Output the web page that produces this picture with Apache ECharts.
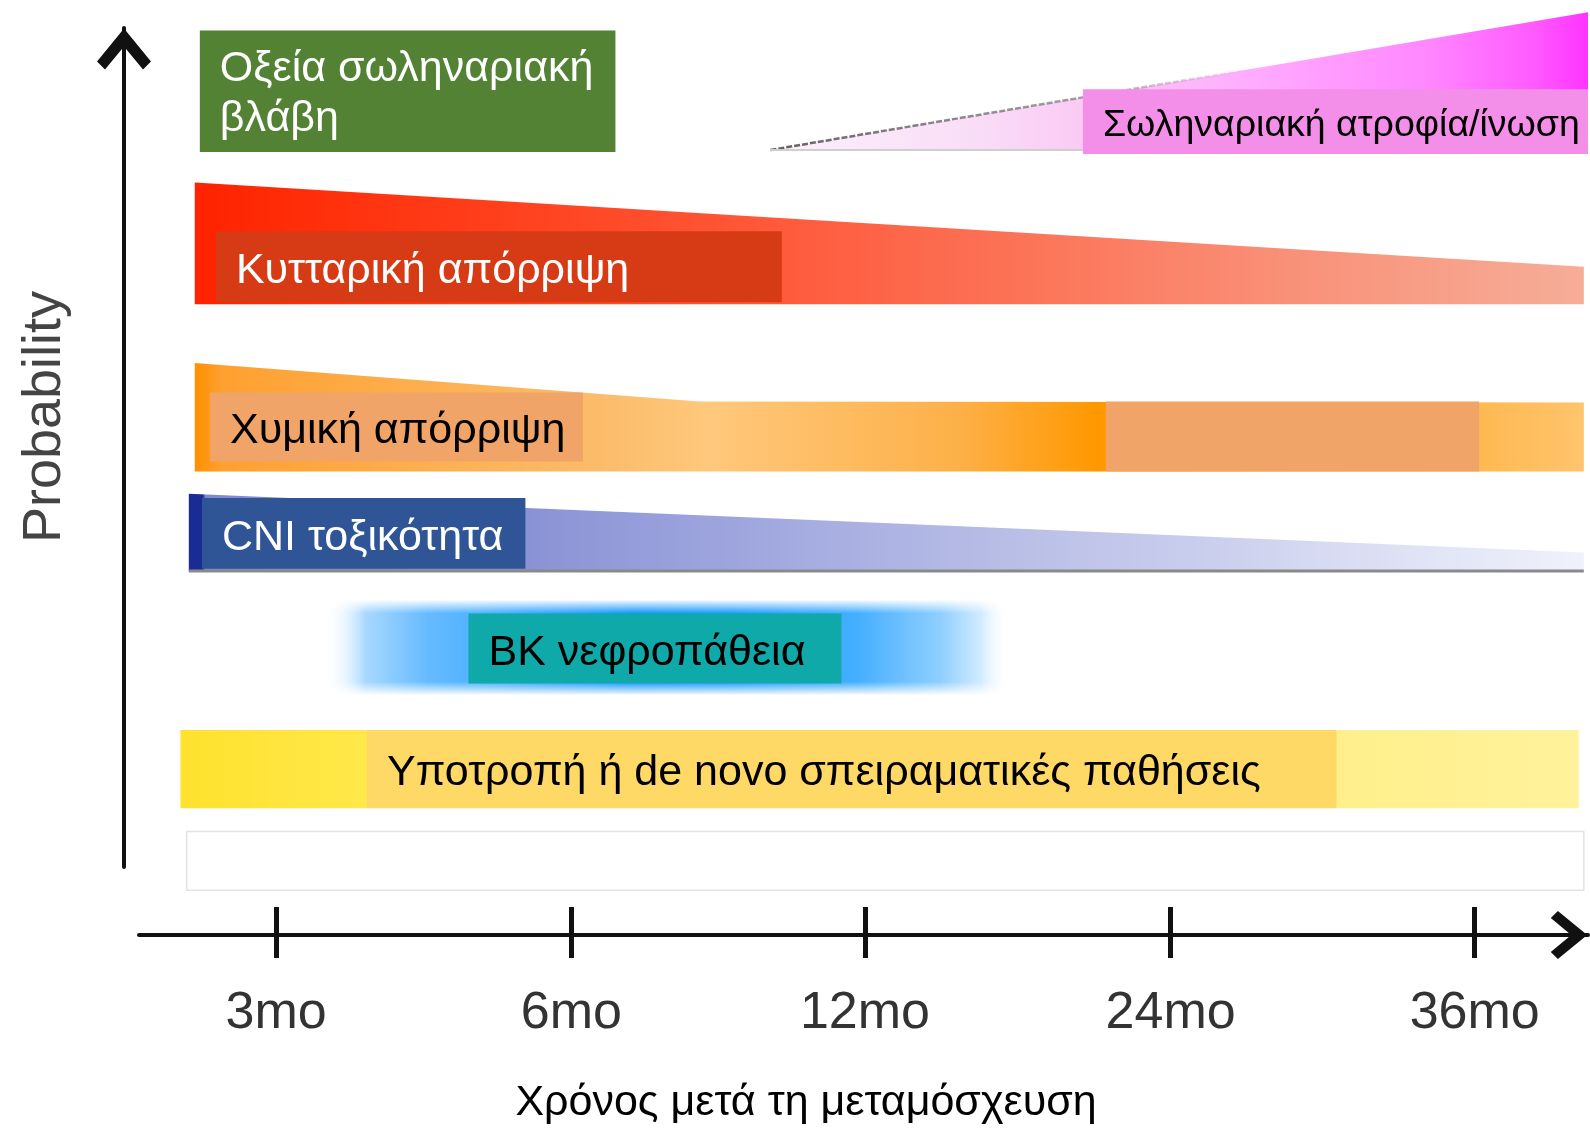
<!DOCTYPE html>
<html>
<head>
<meta charset="utf-8">
<script src="https://cdn.jsdelivr.net/npm/echarts@6/dist/echarts.min.js"></script>
<style>html,body{margin:0;padding:0;background:#fff}#chart{width:1590px;height:1129px}</style>
</head>
<body>
<div id="chart"></div>
<script>
// ---------- DATA ----------
// x positions are in "tick units" (3mo ≈ 0.5, 6mo ≈ 1.5, ...); y is a relative probability level 0..100
const tickLabels = ['3mo', '6mo', '12mo', '24mo', '36mo'];
const tickPositions = [0.50, 1.49, 2.475, 3.50, 4.52];

const bandNames = [
  'Σωληναριακή ατροφία/ίνωση',
  'Κυτταρική απόρριψη',
  'Χυμική απόρριψη',
  'CNI τοξικότητα',
  'BK νεφροπάθεια',
  'Υποτροπή ή de novo σπειραματικές παθήσεις',
  '—'
];
// upper outline of each band: [x, level]
const bandTopLines = [
  [[2.158, 83.96], [4.900, 98.70]],
  [[0.227, 80.48], [4.886, 71.48]],
  [[0.227, 61.18], [1.920, 57.06], [4.886, 56.94]],
  [[0.207, 47.19], [4.886, 40.90]],
  [[0.662, 35.79], [2.958, 35.79]],
  [[0.179, 21.93], [4.869, 21.93]],
  [[0.200, 11.07], [4.886, 11.07]]
];
const bandBaseLevels = [83.96, 67.47, 49.57, 38.94, 25.71, 13.56, 4.78];

const labelTexts = [
  'Οξεία σωληναριακή\nβλάβη',
  'Σωληναριακή ατροφία/ίνωση',
  'Κυτταρική απόρριψη',
  'Χυμική απόρριψη',
  '',
  'CNI τοξικότητα',
  'BK νεφροπάθεια',
  'Υποτροπή ή de novo σπειραματικές παθήσεις'
];
const labelStarts  = [0.244, 3.206, 0.298, 0.278, 3.283, 0.251, 1.145, 0.805];
const labelEnds    = [1.638, 4.900, 2.196, 1.529, 4.535, 1.336, 2.396, 4.056];
const labelTops    = [96.75, 90.46, 75.27, 58.03, 57.06, 46.75, 34.39, 21.70];
const labelBottoms = [83.73, 83.52, 67.68, 50.65, 49.57, 39.16, 26.91, 13.80];

// ---------- STYLES ----------
const FONT = '"Liberation Sans", Arial, sans-serif';
const labelFill = ['#548235', '#f38fe8', '#d73b15', '#f0a468', '#f0a468', '#2f5597', '#10a9aa', '#ffd966'];
const labelInk  = ['#ffffff', '#000000', '#ffffff', '#000000', '#000000', '#ffffff', '#000000', '#000000'];
const labelFontSize = [43, 37.5, 43, 43, 43, 43, 43, 43];
const labelShift = [2.5, 4.5, 4.5, 4.5, 4.5, 4.5, 4.5, 4.5];

const bandStops = [
  [[0, '#fbf1fb'], [0.25, '#f9ddf7'], [0.4, '#fbc7f5'], [0.6, '#ffaaff'], [0.8, '#ff88ff'], [0.93, '#ff5cff'], [1, '#ff33ff']],
  [[0, '#ff2200'], [0.05, '#ff2a05'], [0.3, '#ff4a28'], [0.45, '#fe5e40'], [0.6, '#fc7458'], [0.8, '#f9927a'], [1, '#f6ad98']],
  [[0, '#ff9000'], [0.02, '#ffa030'], [0.3, '#fbbd6c'], [0.37, '#ffc87c'], [0.55, '#fdb048'], [0.65, '#ff9800'], [0.92, '#ffb850'], [1, '#ffc46c']],
  [[0, '#1a2b94'], [0.01, '#1a2b94'], [0.012, '#7f88d2'], [0.24, '#8a92d6'], [0.44, '#a5ace0'], [0.58, '#b8bde6'], [0.72, '#c9cded'], [0.87, '#dfe2f5'], [1, '#eff1fb']],
  [[0, 'rgba(255,255,255,0)'], [0.06, '#a8d8ff'], [0.15, '#66bbff'], [0.3, '#3aa8ff'], [0.45, '#1596ff'], [0.6, '#1e9cff'], [0.78, '#45afff'], [0.9, '#8fcfff'], [0.96, '#d2ecff'], [1, 'rgba(255,255,255,0)']],
  [[0, '#ffe22e'], [0.133, '#ffe84a'], [0.134, '#ffd966'], [0.826, '#ffd966'], [0.827, '#fff08c'], [1, '#fff29a']],
  [[0, '#ffffff'], [1, '#ffffff']]
];

function hGrad(x0, x1, stops) {
  return new echarts.graphic.LinearGradient(x0, 0, x1, 0, stops.map(s => ({ offset: s[0], color: s[1] })), true);
}
function vGrad(y0, y1, stops) {
  return new echarts.graphic.LinearGradient(0, y0, 0, y1, stops.map(s => ({ offset: s[0], color: s[1] })), true);
}

function renderBand(params, api) {
  const i = params.dataIndex;
  const line = bandTopLines[i];
  const top = line.map(p => api.coord(p));
  const first = line[0][0], last = line[line.length - 1][0];
  const br = api.coord([last, bandBaseLevels[i]]);
  const bl = api.coord([first, bandBaseLevels[i]]);
  const x0 = bl[0], x1 = br[0], yBot = br[1];
  const yTop = Math.min.apply(null, top.map(p => p[1]));
  const children = [{
    type: 'polygon',
    shape: { points: top.concat([br, bl]) },
    style: i === 6 ? { fill: '#ffffff', stroke: '#e3e3e3', lineWidth: 1.5 } : { fill: hGrad(x0, x1, bandStops[i]) }
  }];
  if (i === 0) {
    children.push({
      type: 'polyline', shape: { points: top },
      style: { fill: null, lineWidth: 2.5, lineDash: [6, 2],
        stroke: hGrad(x0, x1, [[0, 'rgba(80,80,80,0.9)'], [0.4, 'rgba(110,110,110,0.6)'], [0.6, 'rgba(150,150,150,0)'], [1, 'rgba(150,150,150,0)']]) }
    });
    children.push({ type: 'line', shape: { x1: x0, y1: yBot, x2: x1, y2: yBot }, style: { stroke: '#cfcfcf', lineWidth: 2 } });
  }
  if (i === 3) {
    children.push({ type: 'line', shape: { x1: x0, y1: yBot, x2: x1, y2: yBot }, style: { stroke: '#8a8a8a', lineWidth: 3 } });
  }
  if (i === 4) {
    children.push({ type: 'rect', shape: { x: x0 - 2, y: yTop - 1, width: x1 - x0 + 4, height: 14 },
      style: { fill: vGrad(yTop - 1, yTop + 13, [[0, 'rgba(255,255,255,1)'], [1, 'rgba(255,255,255,0)']]) } });
    children.push({ type: 'rect', shape: { x: x0 - 2, y: yBot - 13, width: x1 - x0 + 4, height: 14 },
      style: { fill: vGrad(yBot - 13, yBot + 1, [[0, 'rgba(255,255,255,0)'], [1, 'rgba(255,255,255,1)']]) } });
  }
  return { type: 'group', children: children };
}

function renderLabel(params, api) {
  const i = params.dataIndex;
  const p0 = api.coord([labelStarts[i], labelTops[i]]);
  const p1 = api.coord([labelEnds[i], labelBottoms[i]]);
  const children = [{
    type: 'rect',
    shape: { x: p0[0], y: p0[1], width: p1[0] - p0[0], height: p1[1] - p0[1] },
    style: { fill: labelFill[i] }
  }];
  if (labelTexts[i]) {
    children.push({
      type: 'text', x: p0[0] + 20, y: (p0[1] + p1[1]) / 2 + labelShift[i],
      style: { text: labelTexts[i], fill: labelInk[i], fontSize: labelFontSize[i], fontFamily: FONT,
        align: 'left', verticalAlign: 'middle', lineHeight: 50 }
    });
  }
  return { type: 'group', children: children };
}

const axisInk = '#111111';
const arrowHead = 'path://M27,0 L54,33 L46,41 L27,18 L8,41 L0,33 Z';

const chart = echarts.init(document.getElementById('chart'), null, { renderer: 'canvas' });
chart.setOption({
  animation: false,
  backgroundColor: '#ffffff',
  grid: [
    { left: 139, right: 2, top: 0, bottom: 194, containLabel: false, outerBoundsMode: 'none' },
    { left: 124, width: 10, top: 28, bottom: 262, containLabel: false, outerBoundsMode: 'none' }
  ],
  xAxis: [
    {
      gridIndex: 0, type: 'value', min: 0.04, max: 4.9,
      axisLine: { show: true, onZero: false, lineStyle: { color: axisInk, width: 4 },
        symbol: ['none', arrowHead], symbolSize: [48, 38], symbolOffset: [0, -19] },
      axisTick: { show: true, customValues: tickPositions, length: 23, lineStyle: { color: axisInk, width: 5 } },
      axisLabel: { show: true, customValues: tickPositions, margin: 53, fontSize: 52, fontFamily: FONT, color: '#333333',
        formatter: function (v) { const k = tickPositions.findIndex(t => Math.abs(t - v) < 1e-6); return k >= 0 ? tickLabels[k] : ''; } },
      splitLine: { show: false },
      name: 'Χρόνος μετά τη μεταμόσχευση', nameLocation: 'middle', nameGap: 147, nameMoveOverlap: false,
      nameTextStyle: { fontSize: 43, fontFamily: FONT, color: '#000000', padding: [0, 115, 0, 0] }
    },
    {
      gridIndex: 0, type: 'value', min: 0.04, max: 4.9, position: 'bottom',
      axisLine: { show: false, onZero: false },
      axisTick: { show: true, inside: true, customValues: tickPositions, length: 28, lineStyle: { color: axisInk, width: 5 } },
      axisLabel: { show: false }, splitLine: { show: false }
    },
    { gridIndex: 1, type: 'value', min: 0, max: 1, show: false }
  ],
  yAxis: [
    { gridIndex: 0, type: 'value', min: 0, max: 100, show: false },
    {
      gridIndex: 1, type: 'value', min: 0, max: 1,
      axisLine: { show: true, onZero: false, lineStyle: { color: axisInk, width: 4 },
        symbol: ['none', arrowHead], symbolSize: [54, 42], symbolOffset: [0, -21] },
      axisTick: { show: false }, axisLabel: { show: false }, splitLine: { show: false },
      name: 'Probability', nameLocation: 'middle', nameRotate: 90, nameGap: 52, nameMoveOverlap: false,
      nameTextStyle: { fontSize: 54, fontFamily: FONT, color: '#444444', padding: [0, 0, 0, 61] }
    }
  ],
  series: [
    {
      type: 'custom', name: 'bands', xAxisIndex: 0, yAxisIndex: 0, clip: false,
      renderItem: renderBand,
      encode: { x: 0, y: 1 },
      data: bandNames.map((n, i) => ({ name: n, value: [bandTopLines[i][0][0], bandBaseLevels[i]] })),
      z: 2
    },
    {
      type: 'custom', name: 'labels', xAxisIndex: 0, yAxisIndex: 0, clip: false,
      renderItem: renderLabel,
      encode: { x: [0, 2], y: [1, 3] },
      data: labelTexts.map((t, i) => ({ name: t, value: [labelStarts[i], labelTops[i], labelEnds[i], labelBottoms[i]] })),
      z: 3
    }
  ]
});
</script>
</body>
</html>
